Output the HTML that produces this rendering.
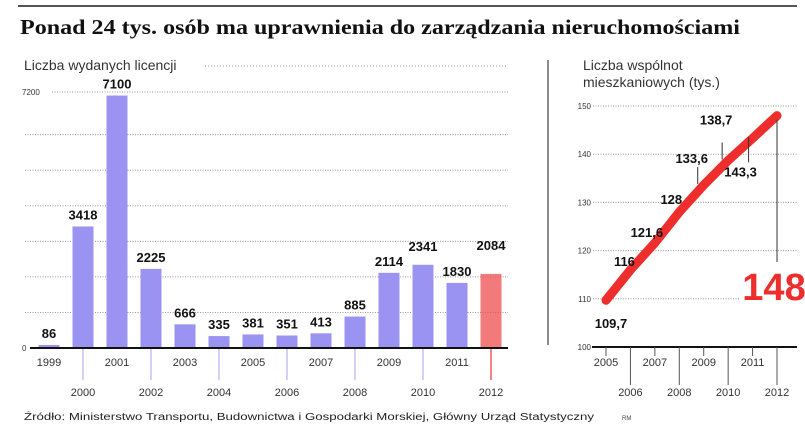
<!DOCTYPE html>
<html><head><meta charset="utf-8"><style>
body{margin:0;background:#fff}
svg{display:block;font-family:"Liberation Sans",sans-serif}
</style></head><body>
<svg id="c" width="805" height="438" viewBox="0 0 805 438">
<line x1="18" y1="6" x2="797" y2="6" stroke="#555" stroke-width="2"/>
<text x="20" y="34" font-family="Liberation Serif, serif" font-weight="bold" font-size="21" textLength="720" lengthAdjust="spacingAndGlyphs" fill="#111">Ponad 24 tys. osób ma uprawnienia do zarządzania nieruchomościami</text>
<text x="24" y="70" font-size="14" fill="#333">Liczba wydanych licencji</text>
<line x1="205" y1="66" x2="508" y2="66" stroke="#999" stroke-dasharray="1,2"/>
<line x1="548" y1="60" x2="548" y2="345" stroke="#666" stroke-width="1.5"/>
<text x="583" y="70" font-size="14" fill="#333">Liczba wspólnot</text>
<text x="583" y="87" font-size="14" fill="#333">mieszkaniowych (tys.)</text>
<g id="left"></g><g id="right"></g>
<text x="24" y="420" font-size="10" fill="#222" textLength="570" lengthAdjust="spacingAndGlyphs">Źródło: Ministerstwo Transportu, Budownictwa i Gospodarki Morskiej, Główny Urząd Statystyczny</text>
<text x="622" y="420" font-size="6" fill="#444">RM</text>
</svg>
<script>
const years=[1999,2000,2001,2002,2003,2004,2005,2006,2007,2008,2009,2010,2011,2012];
const licences=[86,3418,7100,2225,666,335,381,351,413,885,2114,2341,1830,2084];
const licenceLabels=["86","3418","7100","2225","666","335","381","351","413","885","2114","2341","1830","2084"];
const leftTicks=[1000,2000,3000,4000,5000,6000,7200];
const lyears=[2005,2006,2007,2008,2009,2010,2011,2012];
const communities=[109.7,116,121.6,128,133.6,138.7,143.3,148];
const communityLabels=["109,7","116","121,6","128","133,6","138,7","143,3","148"];
const rightTicks=[100,110,120,130,140,150];
const NS="http://www.w3.org/2000/svg";
function mk(p,t,a,txt){const e=document.createElementNS(NS,t);for(const k in a)e.setAttribute(k,a[k]);if(txt!==undefined)e.textContent=txt;p.appendChild(e);return e;}
const L=document.getElementById('left');
const bx=i=>49+i*34, by=v=>348-v*(256/7200);
leftTicks.forEach(t=>{const y=by(t);
 const g=mk(L,'line',{x1:t===7200?52:25,y1:y,x2:508,y2:y,stroke:'#999','stroke-dasharray':'1,1.5'});
 });
let t7=mk(L,'text',{x:22,y:by(7200)+3,'font-size':8,fill:'#333'},'7200');

let t0=mk(L,'text',{x:22,y:351,'font-size':8,fill:'#333'},'0');

licences.forEach((v,i)=>{const x=bx(i),y=by(v);const last=i===licences.length-1;
 const r=mk(L,'rect',{x:x-10.5,y:y,width:21,height:348-y,fill:last?'#ee4d4d':'#9b93f2'});
 if(last){r.setAttribute('opacity','0.75');}
 
 const off=last?24:(i===11?14:7);
 const lb=mk(L,'text',{x:x,y:y-off,'text-anchor':'middle','font-size':13,'font-weight':'bold',fill:'#111'},licenceLabels[i]);
 
 const even=i%2===1;
 if(even){const tk=mk(L,'line',{x1:x,y1:349,x2:x,y2:380,stroke:last?'#e33':'#b8b2f5','stroke-width':1.2});
  }
 const yl=mk(L,'text',{x:x,y:even?396:366,'text-anchor':'middle','font-size':11,fill:'#333'},String(years[i]));
 });
const ax=mk(L,'line',{x1:30,y1:348,x2:508,y2:348,stroke:'#111','stroke-width':2});

const R=document.getElementById('right');
const rx=i=>606+i*24.43, ry=v=>347-(v-100)*4.82;
rightTicks.forEach(t=>{const y=ry(t);
 if(t>100){const g=mk(R,'line',{x1:593,y1:y,x2:t===110?740:797,y2:y,stroke:'#999','stroke-dasharray':'1,1.5'});
 }
 const tl=mk(R,'text',{x:591,y:y+3,'text-anchor':'end','font-size':8,fill:'#333'},String(t));
 });
const rax=mk(R,'line',{x1:592,y1:347,x2:797,y2:347,stroke:'#111','stroke-width':2});

lyears.forEach((yr,i)=>{const x=rx(i),even=i%2===1;
 const tk=mk(R,'line',{x1:x,y1:347,x2:x,y2:even?385:356,stroke:'#555'});
 
 const yl=mk(R,'text',{x:x,y:even?396:366,'text-anchor':'middle','font-size':11,fill:'#333'},String(yr));
 });
const pl=mk(R,'polyline',{points:communities.map((v,i)=>rx(i)+','+ry(v)).join(' '),fill:'none',stroke:'#ee2d2d','stroke-width':9,'stroke-linecap':'round','stroke-linejoin':'round'});

const offs=[[5,28,'middle'],[-6,-4,'middle'],[-8,-6,'middle'],[-8,-8,'middle'],[-12,-22,'middle'],[-12,-36,'middle'],[-12,38,'middle']];
communities.slice(0,7).forEach((v,i)=>{const x=rx(i),y=ry(v);const o=offs[i];
 const lb=mk(R,'text',{x:x+o[0],y:y+o[1],'text-anchor':o[2],'font-size':13,'font-weight':'bold',fill:'#111'},communityLabels[i]);
 
 if(i>=4){const up=i<6;const ln=mk(R,'line',{x1:x-(i===6?4:6),y1:up?y-18:y+24,x2:x-(i===6?4:6),y2:y-1,stroke:'#333'});
  }});
const li=communities.length-1;
const pv=mk(R,'line',{x1:rx(li),y1:ry(communities[li])+4,x2:rx(li),y2:262,stroke:'#333'});

const big=mk(R,'text',{x:rx(li)-3,y:300,'text-anchor':'middle','font-size':38,'font-weight':'bold',fill:'#ee2d2d'},communityLabels[li]);

</script>
</body></html>
